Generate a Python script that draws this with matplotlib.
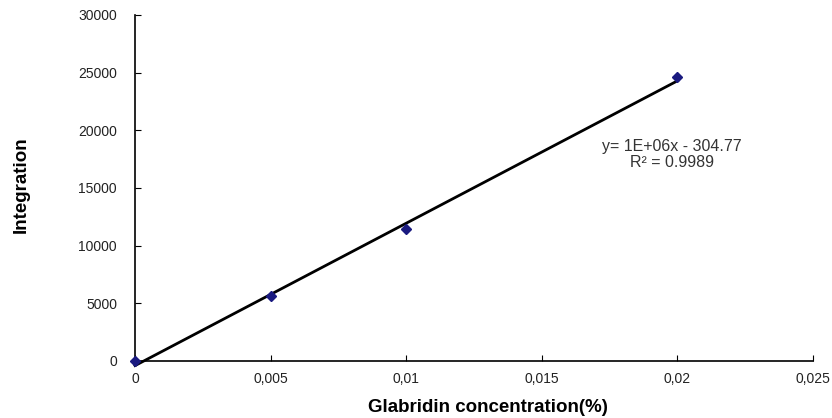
import numpy as np
import matplotlib.pyplot as plt

plt.rcParams['font.family'] = ['Liberation Sans', 'DejaVu Sans']

# calibration points
conc = [0, 0.005, 0.01, 0.02]
area = [0, 5600, 11400, 24600]

xticks = [0, 0.005, 0.01, 0.015, 0.02, 0.025]
xticklabels = ['0', '0,005', '0,01', '0,015', '0,02', '0,025']
yticks = [0, 5000, 10000, 15000, 20000, 25000, 30000]

fig = plt.figure(figsize=(8.32, 4.18), dpi=100)
ax = fig.add_axes([0.1623, 0.1364, 0.815, 0.828])

# linear trendline
k, b = np.polyfit(conc, area, 1)
xs = np.array([conc[0], conc[-1]])
ax.plot(xs, k * xs + b, color='black', lw=2, zorder=2, clip_on=False)
ax.plot(conc, area, linestyle='none', marker='D', ms=5, color='#1a1a80',
        zorder=3, clip_on=False)

ax.set_xlim(0, 0.025)
ax.set_ylim(0, 30000)
ax.set_xticks(xticks)
ax.set_xticklabels(xticklabels)
ax.set_yticks(yticks)
ax.tick_params(direction='in', length=4, labelsize=10, color='black', labelcolor='#222222')
ax.tick_params(axis='y', pad=13)
ax.tick_params(axis='x', pad=8)
for s in ['top', 'right']:
    ax.spines[s].set_visible(False)
ax.spines['left'].set_linewidth(1.2)
ax.spines['bottom'].set_linewidth(1.2)

ax.text(0.0198, 17900, 'y= 1E+06x - 304.77\nR² = 0.9989', ha='center', va='center',
        fontsize=11.5, color='#333333', linespacing=1.1)

fig.text(0.5865, 0.026, 'Glabridin concentration(%)', fontsize=13.5, fontweight='bold',
         ha='center', va='center')
fig.text(0.025, 0.557, 'Integration', rotation=90, fontsize=13.5, fontweight='bold',
         ha='center', va='center')

fig.savefig('out.png', dpi=100)
